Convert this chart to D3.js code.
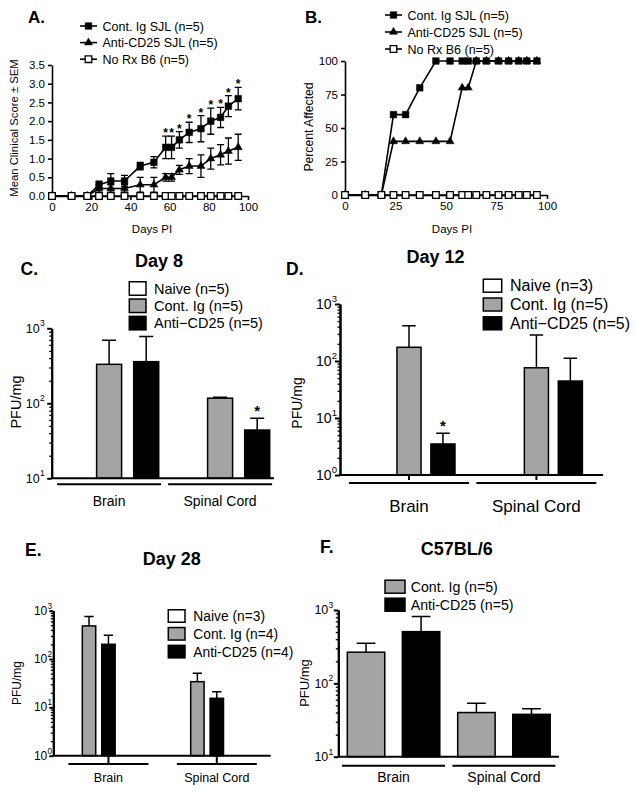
<!DOCTYPE html>
<html><head><meta charset="utf-8">
<script src="https://cdn.jsdelivr.net/npm/d3@7"></script>
<style>
body{margin:0;background:#fff}
svg{display:block}
text{font-family:"Liberation Sans",Arial,Helvetica,sans-serif;fill:#000}
</style></head><body>
<svg id="fig" width="636" height="791"></svg>
<script>
// ---------------- DATA ----------------
const daysPI        = [0, 10, 18, 24, 30, 37, 45, 52, 58, 61, 65, 70, 76, 81, 86, 90, 95];
const legendAB      = ["Cont. Ig SJL (n=5)", "Anti-CD25 SJL (n=5)", "No Rx B6 (n=5)"];
const scoreContIg   = [0, 0, 0, 0.3, 0.4, 0.4, 0.8, 0.9, 1.3, 1.3, 1.5, 1.7, 1.8, 2.0, 2.1, 2.4, 2.6];
const semContIg     = [0, 0, 0, 0.1, 0.2, 0.15, 0.1, 0.15, 0.3, 0.3, 0.22, 0.27, 0.35, 0.35, 0.27, 0.28, 0.3];
const signifContIg  = [0, 0, 0, 0, 0, 0, 0, 0, 1, 1, 1, 1, 1, 1, 1, 1, 1];
const scoreAntiCD25 = [0, 0, 0, 0.2, 0.2, 0.2, 0.3, 0.3, 0.5, 0.5, 0.7, 0.8, 0.8, 1.0, 1.1, 1.2, 1.3];
const semAntiCD25   = [0, 0, 0, 0.1, 0.1, 0.1, 0.2, 0.2, 0.1, 0.1, 0.12, 0.2, 0.3, 0.28, 0.27, 0.35, 0.35];
const scoreNoRx     = [0, 0, 0, 0, 0, 0, 0, 0, 0, 0, 0, 0, 0, 0, 0, 0, 0];
const pctContIg     = [0, 0, 0, 60, 60, 80, 100, 100, 100, 100, 100, 100, 100, 100, 100, 100, 100];
const pctAntiCD25   = [0, 0, 0, 40, 40, 40, 40, 40, 80, 80, 100, 100, 100, 100, 100, 100, 100];
const pctNoRx       = [0, 0, 0, 0, 0, 0, 0, 0, 0, 0, 0, 0, 0, 0, 0, 0, 0];
const scoreTicks    = [0, 0.5, 1.0, 1.5, 2.0, 2.5, 3.0, 3.5];
const dayTicksA     = [0, 20, 40, 60, 80, 100];
const pctTicks      = [0, 25, 50, 75, 100];
const dayTicksB     = [0, 25, 50, 75, 100];

const tissues       = ["Brain", "Spinal Cord"];
const treatKeys     = ["Naive", "Cont. Ig", "Anti-CD25"];

const day8Legend    = ["Naive (n=5)", "Cont. Ig (n=5)", "Anti\u2212CD25 (n=5)"];
const day8Naive     = [null, null];
const day8ContIg    = [331, 117];
const day8ContIgSem = [362, 3];
const day8Anti      = [359, 44];
const day8AntiSem   = [417, 19];
const day8AntiSig   = [0, 1];

const day12Legend    = ["Naive (n=3)", "Cont. Ig (n=5)", "Anti\u2212CD25 (n=5)"];
const day12Naive     = [null, null];
const day12ContIg    = [174, 76];
const day12ContIgSem = [243, 210];
const day12Anti      = [3.5, 44.5];
const day12AntiSem   = [1.9, 67.5];
const day12AntiSig   = [1, 0];

const day28Legend    = ["Naive (n=3)", "Cont. Ig (n=4)", "Anti-CD25 (n=4)"];
const day28Naive     = [null, null];
const day28ContIg    = [484, 34];
const day28ContIgSem = [271, 17];
const day28Anti      = [202, 15.4];
const day28AntiSem   = [108, 5.6];

const b6Legend    = ["Cont. Ig (n=5)", "Anti-CD25 (n=5)"];
const b6ContIg    = [266, 40];
const b6ContIgSem = [86, 13.5];
const b6Anti      = [507, 37.8];
const b6AntiSem   = [306, 7.2];

// ---------------- DRAWING ----------------
const FONT = '"Liberation Sans", Arial, Helvetica, sans-serif';
const GRAY = "#a4a4a4";
const svg = d3.select("#fig");

function txt(g, x, y, s, fs, opts = {}) {
  const t = g.append("text").attr("x", x).attr("y", y).text(s)
    .style("font-size", fs + "px").style("font-family", FONT);
  if (opts.anchor) t.attr("text-anchor", opts.anchor);
  if (opts.bold) t.style("font-weight", "bold");
  if (opts.rotate) t.attr("transform", `rotate(-90,${x},${y})`);
  return t;
}

function styleAxis(sel, fs, sw) {
  sel.attr("font-family", null).attr("font-size", null);
  sel.selectAll("text").style("font-size", fs + "px").style("font-family", FONT).attr("fill", "#000");
  sel.selectAll("path.domain, line").attr("stroke", "#000").attr("stroke-width", sw);
}

function linePanel(o) {
  const g = svg.append("g");
  const x = d3.scaleLinear().domain([0, 100]).range(o.xRange);
  const y = d3.scaleLinear().domain(o.yDomain).range(o.yRange);

  const ax = g.append("g").attr("transform", `translate(0,${o.yRange[0]})`)
    .call(d3.axisBottom(x).tickValues(o.xTicks).tickSize(4).tickSizeOuter(0).tickPadding(3));
  styleAxis(ax, o.tickFs, 1.6);
  const ay = g.append("g").attr("transform", `translate(${o.xRange[0]},0)`)
    .call(d3.axisLeft(y).tickValues(o.yTicks).tickFormat(o.yFormat).tickSize(4).tickSizeOuter(0).tickPadding(3));
  styleAxis(ay, o.tickFs, 1.6);

  o.series.forEach(s => {
    const pts = daysPI.map((d, i) => ({ d, v: s.values[i], e: s.sem ? s.sem[i] : 0, sig: s.sig ? s.sig[i] : 0 }));
    g.append("path").datum(pts).attr("fill", "none").attr("stroke", "#000").attr("stroke-width", 1.6)
      .attr("d", d3.line().x(p => x(p.d)).y(p => y(p.v)));
    const eb = pts.filter(p => p.e > 0);
    g.selectAll(null).data(eb).join("path")
      .attr("d", p => {
        const cx = x(p.d), y0 = y(p.v - p.e), y1 = y(p.v + p.e), c = 3.5;
        return `M${cx},${y0}V${y1}M${cx - c},${y0}H${cx + c}M${cx - c},${y1}H${cx + c}`;
      })
      .attr("stroke", "#000").attr("stroke-width", 1.3).attr("fill", "none");
    g.selectAll(null).data(pts).join("path")
      .attr("transform", p => `translate(${x(p.d)},${y(p.v)})`)
      .attr("d", d3.symbol().type(s.type).size(s.size))
      .attr("fill", s.fill).attr("stroke", "#000").attr("stroke-width", s.fill === "#fff" ? 1.3 : 0.5);
    g.selectAll(null).data(pts.filter(p => p.sig)).join("text")
      .attr("x", p => x(p.d)).attr("y", p => y(p.v + p.e) + 1)
      .attr("text-anchor", "middle").text("*")
      .style("font-size", "12px").style("font-weight", "bold").style("font-family", FONT);
  });

  o.series.slice().sort((a, b) => a.order - b.order).forEach((s, i) => {
    const cy = o.legY + i * o.legStep;
    g.append("line").attr("x1", o.legX).attr("x2", o.legX + 17).attr("y1", cy).attr("y2", cy)
      .attr("stroke", "#000").attr("stroke-width", 1.6);
    g.append("path").attr("transform", `translate(${o.legX + 8.5},${cy})`)
      .attr("d", d3.symbol().type(s.type).size(s.size))
      .attr("fill", s.fill).attr("stroke", "#000").attr("stroke-width", s.fill === "#fff" ? 1.3 : 0.5);
    txt(g, o.legX + 22.5, cy + 4.5, s.name, 12.5);
  });

  txt(g, o.letter[0], o.letter[1], o.letter[2], 17, { bold: true });
  txt(g, o.xLab[0], o.xLab[1], "Days PI", 11.5, { anchor: "middle" });
  txt(g, o.yLab[0], o.yLab[1], o.yLab[2], o.yLab[3], { anchor: "middle", rotate: true });
}

const sqSize = 44, triSize = 28;

linePanel({
  xRange: [52, 248], yDomain: [0, 3.5], yRange: [196, 65],
  xTicks: dayTicksA, yTicks: scoreTicks, yFormat: d3.format(".1f"), tickFs: 11.5,
  series: [
    { name: legendAB[1], values: scoreAntiCD25, sem: semAntiCD25, type: d3.symbolTriangle, size: triSize, fill: "#000", order: 1 },
    { name: legendAB[0], values: scoreContIg, sem: semContIg, sig: signifContIg, type: d3.symbolSquare, size: sqSize, fill: "#000", order: 0 },
    { name: legendAB[2], values: scoreNoRx, type: d3.symbolSquare, size: sqSize, fill: "#fff", order: 2 }
  ],
  legX: 80, legY: 26, legStep: 16.6,
  letter: [28, 22.5, "A."],
  xLab: [152, 233],
  yLab: [17.5, 128, "Mean Clinical Score \u00b1 SEM", 11.3]
});

linePanel({
  xRange: [345, 547], yDomain: [0, 100], yRange: [195, 61],
  xTicks: dayTicksB, yTicks: pctTicks, yFormat: d3.format("d"), tickFs: 11.5,
  series: [
    { name: legendAB[1], values: pctAntiCD25, type: d3.symbolTriangle, size: triSize, fill: "#000", order: 1 },
    { name: legendAB[0], values: pctContIg, type: d3.symbolSquare, size: sqSize, fill: "#000", order: 0 },
    { name: legendAB[2], values: pctNoRx, type: d3.symbolSquare, size: sqSize, fill: "#fff", order: 2 }
  ],
  legX: 385, legY: 15, legStep: 17,
  letter: [305, 22.5, "B."],
  xLab: [452, 233],
  yLab: [313, 127, "Percent Affected", 12.2]
});

function barPanel(o) {
  const g = svg.append("g");
  const lo = o.yDomain[0];
  const y = d3.scaleLog().domain(o.yDomain).range(o.yRange);
  const x0 = d3.scaleBand().domain(tissues).range(o.xRange).paddingInner(o.groupPad).paddingOuter(0);
  const x1 = d3.scaleBand().domain(o.series.map(s => s.key)).range([0, x0.bandwidth()]).paddingInner(o.barPad).paddingOuter(0);
  const bw = x1.bandwidth();
  const rows = [];
  o.series.forEach(s => tissues.forEach((t, i) => {
    if (s.values[i] != null) rows.push({ t, key: s.key, fill: s.fill, v: s.values[i], e: s.sem[i], sig: s.sig ? s.sig[i] : 0 });
  }));
  const bx = r => x0(r.t) + x1(r.key);

  const cap = bw * o.capFrac;
  g.selectAll(null).data(rows).join("path")
    .attr("d", r => { const cx = bx(r) + bw / 2, y0 = y(r.v), y1 = y(r.v + r.e);
      return `M${cx},${y0}V${y1}M${cx - cap / 2},${y1}H${cx + cap / 2}`; })
    .attr("stroke", "#000").attr("stroke-width", 1.5).attr("fill", "none");
  g.selectAll(null).data(rows).join("rect")
    .attr("x", bx).attr("y", r => y(r.v)).attr("width", bw).attr("height", r => y(lo) - y(r.v))
    .attr("fill", r => r.fill).attr("stroke", "#000").attr("stroke-width", 1.5);
  g.selectAll(null).data(rows.filter(r => r.sig)).join("text")
    .attr("x", r => bx(r) + bw / 2).attr("y", r => y(r.v + r.e) - 2)
    .attr("text-anchor", "middle").text("*")
    .style("font-size", o.starFs + "px").style("font-weight", "bold").style("font-family", FONT);

  const e0 = Math.round(Math.log10(o.yDomain[0])), e1 = Math.round(Math.log10(o.yDomain[1]));
  const decades = d3.range(e0, e1 + 1);
  const majors = decades.map(e => Math.pow(10, e));
  const minors = [];
  decades.slice(0, -1).forEach(e => { for (let k = 2; k < 10; k++) minors.push(k * Math.pow(10, e)); });
  const amin = g.append("g").attr("transform", `translate(${o.axisX},0)`)
    .call(d3.axisLeft(y).tickValues(minors).tickSize(o.minorLen).tickSizeOuter(0).tickFormat(""));
  styleAxis(amin, 10, 1.3);
  amin.select("path.domain").attr("stroke-width", 2);
  const amaj = g.append("g").attr("transform", `translate(${o.axisX},0)`)
    .call(d3.axisLeft(y).tickValues(majors).tickSize(o.majorLen).tickSizeOuter(0).tickFormat(""));
  styleAxis(amaj, 10, 2);
  amaj.selectAll(".tick").each(function (d) {
    const t = d3.select(this);
    t.select("text").remove();
    t.append("text").attr("x", -o.labOff).attr("y", 0).attr("dy", "0.3em").attr("text-anchor", "end")
      .text("10").style("font-size", o.tickFs + "px").style("font-family", FONT);
    t.append("text").attr("x", -o.labOff + 0.3).attr("y", -0.2 * o.tickFs)
      .attr("text-anchor", "start").text(String(Math.round(Math.log10(d))))
      .style("font-size", (o.tickFs * 0.68) + "px").style("font-family", FONT);
  });

  const yb = y(lo);
  g.append("line").attr("x1", o.axisX).attr("x2", o.xEnd).attr("y1", yb).attr("y2", yb)
    .attr("stroke", "#000").attr("stroke-width", 2);

  const anchor = t => o.anchorKey ? x0(t) + x1(o.anchorKey) + bw / 2 : x0(t) + x0.bandwidth() / 2;
  if (o.groupTick) {
    g.selectAll(null).data(tissues).join("line")
      .attr("x1", anchor).attr("x2", anchor).attr("y1", yb).attr("y2", yb + o.groupTick)
      .attr("stroke", "#000").attr("stroke-width", 2);
  }
  g.selectAll(null).data(tissues).join("line")
    .attr("x1", t => anchor(t) - o.ulHalf).attr("x2", t => anchor(t) + o.ulHalf)
    .attr("y1", yb + o.ulOff).attr("y2", yb + o.ulOff)
    .attr("stroke", "#000").attr("stroke-width", 2);
  g.selectAll(null).data(tissues).join("text")
    .attr("x", anchor).attr("y", yb + o.labBase).attr("text-anchor", "middle").text(t => t)
    .style("font-size", o.groupFs + "px").style("font-family", FONT);

  o.series.forEach((s, i) => {
    const cy = o.leg.y + i * o.leg.step;
    g.append("rect").attr("x", o.leg.x).attr("y", cy - o.leg.h / 2).attr("width", o.leg.w).attr("height", o.leg.h)
      .attr("fill", s.fill).attr("stroke", "#000").attr("stroke-width", 1.5);
    txt(g, o.leg.x + o.leg.w + o.leg.dx, cy + 0.36 * o.leg.fs, s.name, o.leg.fs);
  });

  txt(g, o.letter[0], o.letter[1], o.letter[2], 17.5, { bold: true });
  txt(g, o.title[0], o.title[1], o.title[2], 18, { bold: true, anchor: "middle" });
  txt(g, o.yLab[0], o.yLab[1], "PFU/mg", o.yLab[2], { anchor: "middle", rotate: true });
}

barPanel({
  yDomain: [10, 1000], yRange: [478.3, 328.3], axisX: 51.7, xEnd: 274,
  xRange: [59.5, 269.7], groupPad: 0.106, barPad: 0.326, capFrac: 0.56,
  series: [
    { key: treatKeys[0], name: day8Legend[0], values: day8Naive, sem: [0, 0], fill: "#fff" },
    { key: treatKeys[1], name: day8Legend[1], values: day8ContIg, sem: day8ContIgSem, fill: GRAY },
    { key: treatKeys[2], name: day8Legend[2], values: day8Anti, sem: day8AntiSem, sig: day8AntiSig, fill: "#000" }
  ],
  starFs: 15, majorLen: 4.5, minorLen: 2.5, tickFs: 12.5, labOff: 12,
  ulHalf: 52, ulOff: 6, labBase: 27.7, groupFs: 14,
  leg: { x: 129.3, y: 288.5, step: 17.3, w: 16.7, h: 13.5, dx: 8, fs: 14.5 },
  letter: [20.5, 275, "C."], title: [159, 266.7, "Day 8"], yLab: [21, 402, 14.5]
});

barPanel({
  yDomain: [1, 1000], yRange: [475, 304], axisX: 340, xEnd: 603,
  xRange: [363, 582.4], groupPad: 0.278, barPad: 0.29, capFrac: 0.56,
  series: [
    { key: treatKeys[0], name: day12Legend[0], values: day12Naive, sem: [0, 0], fill: "#fff" },
    { key: treatKeys[1], name: day12Legend[1], values: day12ContIg, sem: day12ContIgSem, fill: GRAY },
    { key: treatKeys[2], name: day12Legend[2], values: day12Anti, sem: day12AntiSem, sig: day12AntiSig, fill: "#000" }
  ],
  starFs: 15, majorLen: 5, minorLen: 2.5, tickFs: 14, labOff: 8.5,
  groupTick: 5, ulHalf: 60, ulOff: 8, labBase: 36.5, groupFs: 17,
  leg: { x: 483.3, y: 285.7, step: 18.8, w: 18.4, h: 13, dx: 8.3, fs: 16 },
  letter: [286, 275, "D."], title: [435.5, 263, "Day 12"], yLab: [302, 403, 14]
});

barPanel({
  yDomain: [1, 1000], yRange: [755.7, 610.7], axisX: 53.3, xEnd: 270.7,
  xRange: [62.9, 223.5], groupPad: 0.518, barPad: 0.31, capFrac: 0.7,
  anchorKey: treatKeys[2],
  series: [
    { key: treatKeys[0], name: day28Legend[0], values: day28Naive, sem: [0, 0], fill: "#fff" },
    { key: treatKeys[1], name: day28Legend[1], values: day28ContIg, sem: day28ContIgSem, fill: GRAY },
    { key: treatKeys[2], name: day28Legend[2], values: day28Anti, sem: day28AntiSem, fill: "#000" }
  ],
  starFs: 14, majorLen: 4, minorLen: 2.5, tickFs: 12, labOff: 6,
  groupTick: 8, ulHalf: 40, ulOff: 8.3, labBase: 26, groupFs: 12.5,
  leg: { x: 168.3, y: 616, step: 17.8, w: 16.7, h: 12.5, dx: 8.3, fs: 13.8 },
  letter: [25, 556, "E."], title: [171.7, 565, "Day 28"], yLab: [21, 683, 12]
});

barPanel({
  yDomain: [10, 1000], yRange: [756.7, 610], axisX: 338.3, xEnd: 559,
  xRange: [347.3, 550.2], groupPad: 0.162, barPad: 0.32, capFrac: 0.5,
  series: [
    { key: treatKeys[1], name: b6Legend[0], values: b6ContIg, sem: b6ContIgSem, fill: GRAY },
    { key: treatKeys[2], name: b6Legend[1], values: b6Anti, sem: b6AntiSem, fill: "#000" }
  ],
  starFs: 14, majorLen: 4.5, minorLen: 2.5, tickFs: 12.5, labOff: 10,
  ulHalf: 51.5, ulOff: 9, labBase: 25.3, groupFs: 14,
  leg: { x: 385, y: 586.7, step: 18, w: 20, h: 13, dx: 5.7, fs: 14.2 },
  letter: [320, 553, "F."], title: [456.7, 555, "C57BL/6"], yLab: [309, 683, 13]
});
</script>
</body></html>
